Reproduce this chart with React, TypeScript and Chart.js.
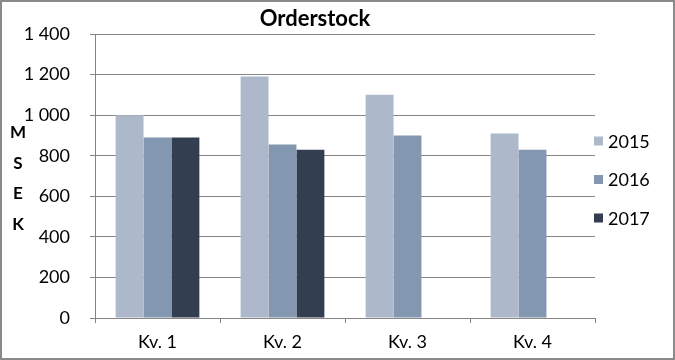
import React, { useEffect, useRef } from "react";
import { Chart, registerables } from "chart.js";

Chart.register(...registerables);

const categories = ["Kv. 1", "Kv. 2", "Kv. 3", "Kv. 4"];
const seriesNames = ["2015", "2016", "2017"];
const values2015 = [1000, 1190, 1100, 910];
const values2016 = [890, 855, 900, 830];
const values2017: (number | null)[] = [890, 830, null, null];
const seriesColors = ["#adb9ca", "#8497b0", "#333f50"];
const yTickLabels = ["0", "200", "400", "600", "800", "1 000", "1 200", "1 400"];
const titleText = "Orderstock";
const axisTitleLetters = ["M", "S", "E", "K"];

const FONT = "Lato, 'Open Sans', sans-serif";
const GRID = "#868686";

const decorPlugin = {
  id: "decor",
  afterDraw(chart: any) {
    const ctx = chart.ctx as CanvasRenderingContext2D;
    const W = chart.width;
    const H = chart.height;
    ctx.save();
    // border
    ctx.strokeStyle = "#8a8a8a";
    ctx.lineWidth = 2;
    ctx.strokeRect(1, 1, W - 2, H - 2);
    // title
    ctx.fillStyle = "#000";
    ctx.font = `bold 22px ${FONT}`;
    ctx.textAlign = "center";
    ctx.textBaseline = "middle";
    ctx.fillText(titleText, 315, 19);
    // vertical axis title
    ctx.font = `bold 17px ${FONT}`;
    axisTitleLetters.forEach((l, i) => {
      ctx.fillText(l, 18, 133 + i * 30.5);
    });
    // legend
    ctx.font = `18px ${FONT}`;
    ctx.textAlign = "left";
    chart.data.datasets.forEach((ds: any, i: number) => {
      const cy = H / 2 - 39 + i * 38.5;
      ctx.fillStyle = ds.backgroundColor;
      ctx.fillRect(594, cy - 4.5, 9, 9);
      ctx.fillStyle = "#000";
      ctx.fillText(ds.label, 608, cy + 1);
    });
    ctx.restore();
  },
};

export default function App() {
  const ref = useRef<HTMLCanvasElement>(null);
  useEffect(() => {
    const chart = new Chart(ref.current!, {
      type: "bar",
      data: {
        labels: categories,
        datasets: [values2015, values2016, values2017].map((d, i) => ({
          label: seriesNames[i],
          data: d,
          backgroundColor: seriesColors[i],
          borderWidth: 0,
          categoryPercentage: 0.67,
          barPercentage: 1,
        })),
      },
      options: {
        responsive: false,
        animation: false,
        layout: { padding: { left: 0, right: 80, top: 34, bottom: 0 } },
        plugins: {
          legend: { display: false },
          title: { display: false },
          tooltip: { enabled: false },
        },
        scales: {
          x: {
            grid: {
              drawOnChartArea: false,
              drawTicks: true,
              tickLength: 5,
              color: GRID,
              offset: true,
            },
            border: { display: true, color: GRID, width: 1 },
            ticks: {
              color: "#000",
              font: { family: FONT, size: 18 },
              padding: 8,
              maxRotation: 0,
            },
            afterFit(scale: any) {
              scale.height = 42;
            },
          },
          y: {
            min: 0,
            max: 1400,
            grid: { color: GRID, tickLength: 5, drawTicks: true },
            border: { display: true, color: GRID, width: 1 },
            ticks: {
              stepSize: 200,
              color: "#000",
              font: { family: FONT, size: 18 },
              padding: 20,
              callback: (_v: any, i: number) => yTickLabels[i],
            },
            afterFit(scale: any) {
              scale.width = 95;
            },
          },
        },
      },
      plugins: [decorPlugin],
    });
    return () => chart.destroy();
  }, []);
  return (
    <div style={{ position: "fixed", left: 0, top: 0, width: 675, height: 360, background: "#fff" }}>
      <canvas ref={ref} width={675} height={360} />
    </div>
  );
}
